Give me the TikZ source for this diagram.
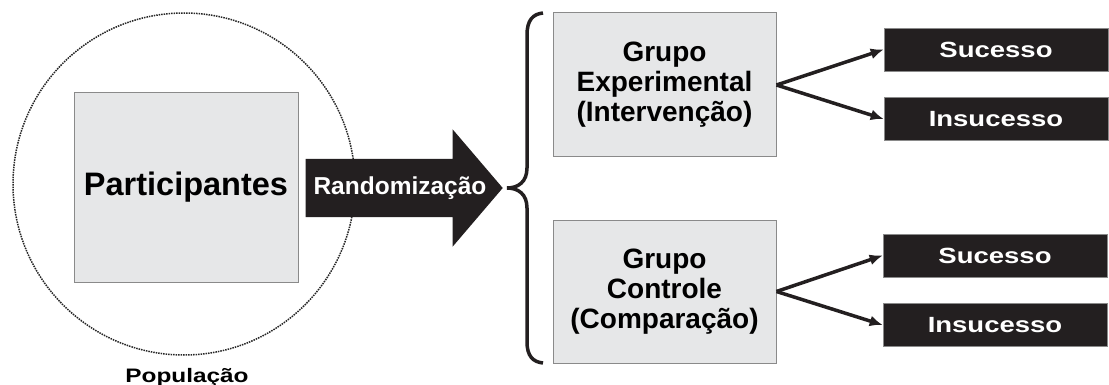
\documentclass[tikz,border=0pt]{standalone}
\usepackage{fontspec}
\setmainfont{Liberation Sans}
\newfontfamily\widefont[FakeStretch=1.25]{Liberation Sans}
\usetikzlibrary{shapes.arrows, arrows.meta}
\definecolor{boxgray}{HTML}{E6E7E8}
\definecolor{edgegray}{HTML}{8A8A8A}
\definecolor{inkblack}{HTML}{231F20}
\tikzset{
  graybox/.style={draw=edgegray, line width=1pt, fill=boxgray, align=center,
    font=\bfseries\fontsize{28}{30}\selectfont},
  resultbox/.style={fill=inkblack, draw=edgegray, line width=0.6pt, text=white,
    minimum width=224, minimum height=43, font=\widefont\bfseries\fontsize{22}{24}\selectfont},
  fork/.style={line width=3.5pt, draw=inkblack, -{Latex[length=13pt,width=11pt]}}
}

\begin{document}
\begin{tikzpicture}[x=1pt, y=-1pt]
  \useasboundingbox (0,0) rectangle (1109,385);

  \node[circle, draw=black!85, densely dotted, line width=1.5pt, minimum size=342] (pop) at (184,184) {};
  \node[anchor=base, font=\widefont\bfseries\fontsize{19.5}{21}\selectfont] (poplabel) at (187,382) {População};

  \node[graybox, minimum width=224, minimum height=189,
        font=\bfseries\fontsize{32.5}{34}\selectfont] (part) at (186,187.5) {Participantes};

  \node[single arrow, fill=inkblack, inner sep=0pt, inner ysep=29pt,
        minimum height=197, minimum width=117,
        single arrow head extend=29.5pt, single arrow tip angle=99,
        anchor=tip] (rand) at (503,188) {};
  \node[text=white, font=\bfseries\fontsize{24.5}{26}\selectfont] (randtext) at (400,188) {Randomização};

  \draw[line width=3.5pt, inkblack] (543,13) .. controls (533,14) and (527,20) .. (527,35)
    -- (527,168) .. controls (527,182) and (518,188) .. (507,188)
    .. controls (518,188) and (527,194) .. (527,208)
    -- (527,342) .. controls (527,356) and (533,362) .. (543,363);

  \node[graybox, minimum width=223, minimum height=144] (exp) at (664.5,85) {Grupo\\Experimental\\(Intervenção)};
  \node[graybox, minimum width=223, minimum height=143] (ctrl) at (664.5,291.5) {Grupo\\Controle\\(Comparação)};

  \node[resultbox] (suc1) at (996,49.5) {Sucesso};
  \node[resultbox] (ins1) at (996,119) {Insucesso};
  \node[resultbox] (suc2) at (995,255.5) {Sucesso};
  \node[resultbox] (ins2) at (995,325) {Insucesso};

  \draw[fork] (exp.east) -- (suc1.west);
  \draw[fork] (exp.east) -- (ins1.west);
  \draw[fork] (ctrl.east) -- (suc2.west);
  \draw[fork] (ctrl.east) -- (ins2.west);
\end{tikzpicture}
\end{document}
